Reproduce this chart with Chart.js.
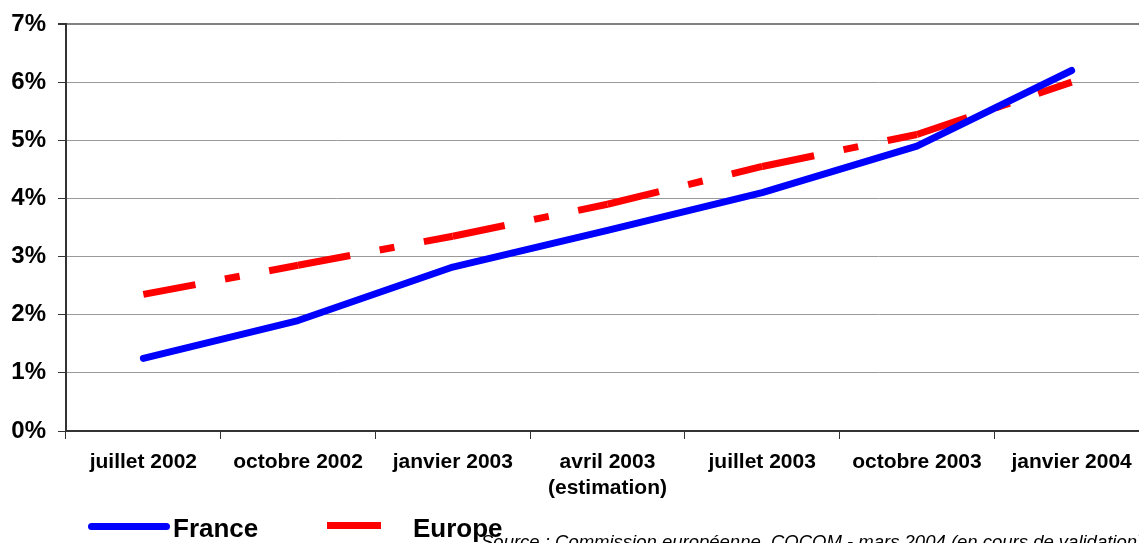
<!DOCTYPE html>
<html>
<head>
<meta charset="utf-8">
<script src="https://cdn.jsdelivr.net/npm/chart.js@4"></script>
<style>
html,body{margin:0;padding:0;overflow:hidden;background:#fff;width:1139px;height:543px;}
#wrap{position:absolute;left:0;top:0;width:1150px;height:543px;}
.leg{position:absolute;font-family:"Liberation Sans",Arial,sans-serif;font-weight:bold;font-size:26px;color:#000;line-height:26px;white-space:nowrap;}
.sw{position:absolute;height:7px;}
#src{position:absolute;left:481px;top:533px;font-family:"Liberation Sans",Arial,sans-serif;font-style:italic;font-size:18.5px;line-height:18.5px;white-space:nowrap;color:#000;}
</style>
</head>
<body>
<div id="wrap"><canvas id="c" width="1150" height="543"></canvas></div>
<div class="sw" style="left:88px;top:523px;width:82px;background:#0000ff;border-radius:4px;"></div>
<div class="leg" style="left:173px;top:515px;">France</div>
<div class="sw" style="left:327px;top:522px;width:54px;background:#ff0000;"></div>
<div id="src">Source : Commission européenne, COCOM - mars 2004 (en cours de validation)</div>
<div class="leg" style="left:413px;top:515px;">Europe</div>
<script>
const categories = [
  "juillet 2002", "octobre 2002", "janvier 2003", ["avril 2003", "(estimation)"],
  "juillet 2003", "octobre 2003", "janvier 2004"
];
const franceValues = [1.25, 1.9, 2.82, 3.45, 4.1, 4.9, 6.2];
const europeValues = [2.35, 2.85, 3.35, 3.9, 4.55, 5.1, 6.0];
const yTicks = [0, 1, 2, 3, 4, 5, 6, 7];

const FONT = '"Liberation Sans", Arial, sans-serif';

new Chart(document.getElementById('c'), {
  type: 'line',
  data: {
    labels: categories,
    datasets: [
      {
        label: 'France',
        data: franceValues,
        borderColor: '#0000ff',
        borderWidth: 7,
        borderCapStyle: 'round',
        borderJoinStyle: 'round',
        pointRadius: 0,
        tension: 0,
        fill: false
      },
      {
        label: 'Europe',
        data: europeValues,
        borderColor: '#ff0000',
        borderWidth: 7,
        borderCapStyle: 'butt',
        borderDash: [53, 30, 15, 30],
        pointRadius: 0,
        tension: 0,
        fill: false,
        segment: {
          borderDashOffset: ctx => (ctx.p0DataIndex % 2 ? 0.0001 : 0)
        }
      }
    ]
  },
  options: {
    responsive: false,
    animation: false,
    layout: { padding: { top: 24, left: 0, right: 1, bottom: 0 } },
    plugins: { legend: { display: false }, tooltip: { enabled: false } },
    scales: {
      x: {
        type: 'category',
        offset: true,
        border: { display: true, color: '#333', width: 2 },
        grid: { display: true, offset: true, drawOnChartArea: false, drawTicks: true, tickLength: 8, color: '#333', lineWidth: 1 },
        ticks: {
          color: '#000',
          font: { family: FONT, weight: 'bold', size: 21, lineHeight: 1.25 },
          padding: 10,
          maxRotation: 0,
          autoSkip: false
        },
        afterFit: s => { s.height = 112; }
      },
      y: {
        min: 0,
        max: 7,
        afterBuildTicks: s => { s.ticks = yTicks.map(v => ({ value: v })); },
        border: { display: true, color: '#333', width: 2 },
        grid: {
          color: ctx => (ctx.tick && ctx.tick.value === 7 ? '#808080' : '#999'),
          lineWidth: ctx => (ctx.tick && ctx.tick.value === 7 ? 2 : 1),
          tickLength: 8,
          tickColor: '#333'
        },
        ticks: {
          color: '#000',
          font: { family: FONT, weight: 'bold', size: 24, lineHeight: 1 },
          padding: 12,
          callback: v => v + '%'
        },
        afterFit: s => { s.width = 66; }
      }
    }
  }
});
</script>
</body>
</html>
